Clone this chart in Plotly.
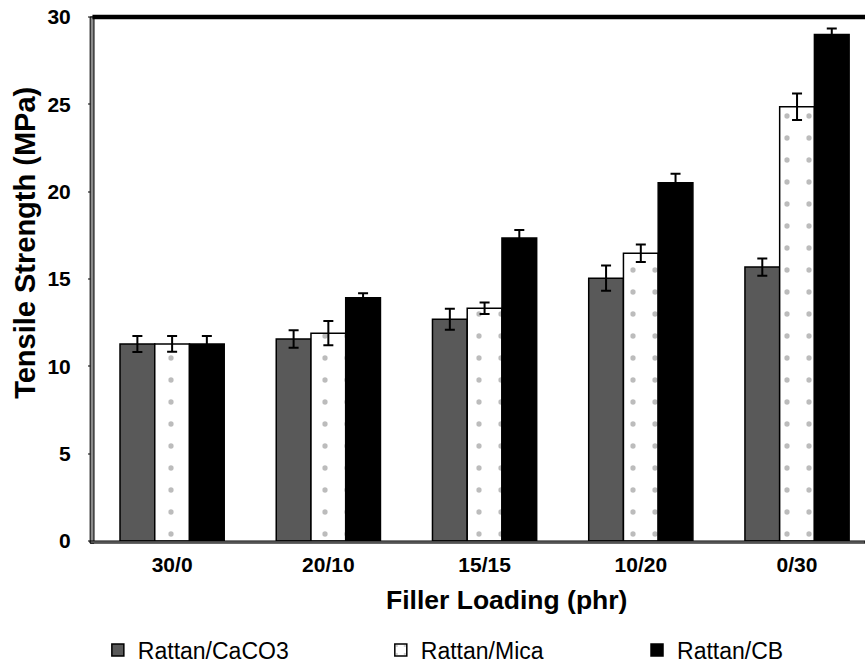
import plotly.graph_objects as go

categories = ["30/0", "20/10", "15/15", "10/20", "0/30"]
series_names = ["Rattan/CaCO3", "Rattan/Mica", "Rattan/CB"]
caco3 = [11.28, 11.56, 12.69, 15.05, 15.68]
caco3_err = [0.46, 0.50, 0.60, 0.72, 0.50]
mica = [11.28, 11.90, 13.32, 16.47, 24.86]
mica_err = [0.45, 0.70, 0.33, 0.50, 0.76]
cb = [11.28, 13.93, 17.35, 20.51, 29.00]
cb_err = [0.45, 0.25, 0.45, 0.52, 0.34]
y_ticks = [0, 5, 10, 15, 20, 25, 30]
x_title = "Filler Loading (phr)"
y_title = "Tensile Strength (MPa)"

FONT = "Liberation Sans, Arial, sans-serif"

fig = go.Figure()
err_style = dict(type="data", color="black", thickness=2, width=5)
fig.add_trace(go.Bar(
    name=series_names[0], x=categories, y=caco3, legend="legend",
    error_y=dict(array=caco3_err, **err_style),
    marker=dict(color="#595959", line=dict(color="black", width=1.5)),
))
fig.add_trace(go.Bar(
    name=series_names[1], x=categories, y=mica, legend="legend2",
    error_y=dict(array=mica_err, **err_style),
    marker=dict(color="white", line=dict(color="black", width=1.5),
                pattern=dict(shape=".", size=22, solidity=0.045,
                             fgcolor="#7a7a7a", bgcolor="white")),
))
fig.add_trace(go.Bar(
    name=series_names[2], x=categories, y=cb, legend="legend3",
    error_y=dict(array=cb_err, **err_style),
    marker=dict(color="black", line=dict(color="black", width=1.5)),
))

leg_common = dict(orientation="h", xanchor="left", y=-0.208, yanchor="middle",
                  font=dict(size=23, family=FONT), itemwidth=30,
                  bgcolor="rgba(0,0,0,0)", borderwidth=0)

fig.update_layout(
    width=865, height=665,
    margin=dict(l=94, r=0, t=17, b=124, autoexpand=False),
    paper_bgcolor="white", plot_bgcolor="white",
    barmode="group", bargap=0.333, bargroupgap=0,
    font=dict(family=FONT, color="black"),
    showlegend=True,
    legend=dict(x=0.005, **leg_common),
    legend2=dict(x=0.372, **leg_common),
    legend3=dict(x=0.7043, **leg_common),
    xaxis=dict(
        range=[-0.5, 4.435], type="category",
        showline=False, showgrid=False, zeroline=False, ticks="",
        tickfont=dict(size=21, family=FONT, weight="bold"),
        ticklabelstandoff=9, automargin=False,
    ),
    yaxis=dict(
        range=[0, 30], tickvals=y_ticks, showgrid=False, zeroline=False,
        showline=False, ticks="outside", ticklen=5, tickcolor="#808080", tickwidth=1.5,
        tickfont=dict(size=21, family=FONT, weight="bold"),
        ticklabelstandoff=13, automargin=False,
    ),
    annotations=[
        dict(text="<b>" + x_title + "</b>", xref="paper", yref="paper",
             x=0.535, y=-0.112, xanchor="center", yanchor="middle", showarrow=False,
             font=dict(size=26.5, family=FONT, color="black")),
        dict(text="<b>" + y_title + "</b>", xref="paper", yref="paper",
             x=-0.0895, y=0.569, xanchor="center", yanchor="middle", showarrow=False,
             textangle=-90, font=dict(size=29, family=FONT, color="black")),
    ],
    shapes=[
        dict(type="rect", xref="x domain", yref="y domain", x0=-0.005, x1=0.0, y0=-0.004, y1=1.0,
             fillcolor="#8c8c8c", line=dict(color="black", width=1), layer="above"),
        dict(type="rect", xref="x domain", yref="y domain", x0=-0.005, x1=1.0, y0=-0.004, y1=0.0,
             fillcolor="#8c8c8c", line=dict(color="black", width=1), layer="above"),
        dict(type="line", xref="x domain", yref="y domain", x0=-0.002, x1=1.0, y0=1.0, y1=1.0,
             line=dict(color="black", width=4.5), layer="above"),
    ],
)

fig.write_html("out.html")
